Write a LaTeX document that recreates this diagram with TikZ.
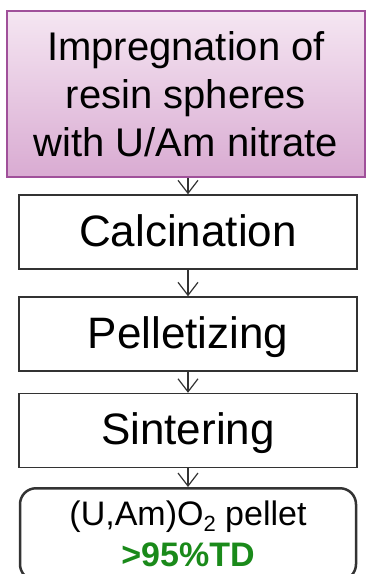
\documentclass[tikz,border=0pt]{standalone}
\usepackage{fontspec}
\setmainfont{Liberation Sans}
\usetikzlibrary{arrows.meta}

\definecolor{resinborder}{HTML}{A0509A}
\definecolor{resintop}{HTML}{F5E6F2}
\definecolor{resinbottom}{HTML}{D9ABD2}
\definecolor{tdgreen}{HTML}{1A8A1A}
\definecolor{boxline}{HTML}{333333}

\tikzset{
  stepbox/.style={draw=boxline, line width=1.5pt, minimum width=338pt, minimum height=74pt,
    inner sep=0pt, font=\fontsize{44}{48}\selectfont, text height=33pt, text depth=5pt},
  flow/.style={draw=black!80, line width=1.2pt, -{Straight Barb[length=13pt,width=20pt]}}
}

\begin{document}
\begin{tikzpicture}[x=1pt,y=1pt]
  \useasboundingbox (0,0) rectangle (366,-574);

  % Draw the impregnation step with the pink fill
  \node[draw=resinborder, line width=2pt, top color=resintop, bottom color=resinbottom,
    minimum width=358pt, minimum height=166pt, inner sep=0pt, align=center,
    font=\fontsize{40}{48}\selectfont] (impreg) at (186,-94) {Impregnation of\\resin spheres\\with U/Am nitrate};

  % Draw the process steps
  \node[stepbox] (calc) at (188,-232) {Calcination};
  \node[stepbox] (pellet) at (188,-334) {Pelletizing};
  \node[stepbox] (sinter) at (188,-430.5) {Sintering};

  % Draw the product box
  \node[draw=boxline, line width=2.5pt, rounded corners=16pt, minimum width=336pt, minimum height=92pt,
    inner sep=0pt, align=center, font=\fontsize{34}{41}\selectfont, anchor=north] (product) at (188,-487)
    {(U,Am)O\raisebox{-6pt}{\fontsize{22}{22}\selectfont 2} pellet\\\textcolor{tdgreen}{\textbf{>95\%TD}}};

  % Draw the arrows between the steps
  \foreach \a/\b in {impreg/calc, calc/pellet, pellet/sinter, sinter/product} {
    \draw[flow] (\a.south -| \b.north) -- (\b.north);
  }
\end{tikzpicture}
\end{document}
